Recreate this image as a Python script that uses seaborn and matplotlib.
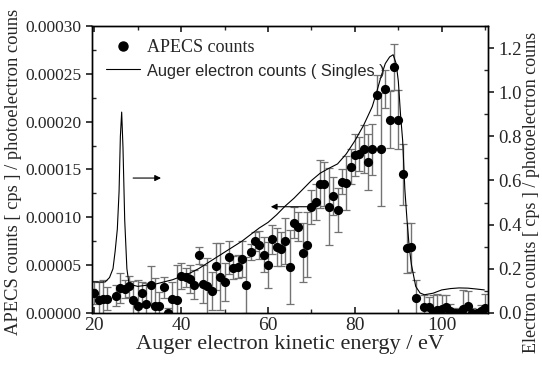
import numpy as np
import pandas as pd
import seaborn as sns
import matplotlib.pyplot as plt
from matplotlib.ticker import MultipleLocator, FormatStrFormatter
from matplotlib.lines import Line2D

# APECS coincidence counts (values in units of 1e-5 cps / photoelectron counts)
energy = [20, 21, 22, 23, 25, 26, 27, 28, 29, 30, 31, 32, 33, 34, 35, 36, 37, 38, 39,
          40, 41, 42, 43, 44, 45, 46, 47, 48, 49, 50, 51, 52, 53, 54, 55, 56, 57, 58, 59,
          60, 61, 62, 63, 64, 65, 66, 67, 68, 69, 70, 71, 72, 73, 74, 75, 76, 77, 78, 79,
          80, 81, 82, 83, 84, 85, 86, 87, 88, 89, 90, 91, 92, 93, 94, 96, 97, 98, 99,
          100, 101, 102, 103, 104, 105, 106, 107, 108, 109, 110]
apecs = [2.1, 1.3, 1.4, 1.5, 1.8, 2.6, 2.5, 2.8, 1.3, 0.7, 2.1, 0.95, 2.9, 0.7, 0.7, 2.7, 0.0, 1.45, 1.35,
         3.85, 3.7, 3.55, 2.95, 6.0, 3.0, 2.8, 2.3, 4.85, 3.8, 3.2, 5.8, 4.7, 4.8, 5.6, 2.9, 6.35, 7.5, 7.1, 6.1,
         5.0, 7.7, 6.9, 6.65, 7.5, 4.8, 9.45, 9.0, 6.3, 7.1, 11.1, 11.6, 13.5, 13.45, 11.1, 12.2, 10.8, 13.7, 13.6, 15.3,
         16.5, 16.6, 17.1, 15.8, 17.1, 22.8, 17.1, 23.4, 20.2, 25.7, 20.2, 14.5, 6.8, 6.85, 1.6, 0.66, 0.66, 0.1, 0.35,
         0.45, 0.6, 0.15, 0.0, 0.0, 0.4, 0.75, 0.0, 0.0, 0.2, 0.55]
apecs_err = [1.2, 1.9, 2.0, 1.2, 1.1, 1.6, 0.9, 1.1, 2.0, 2.7, 1.1, 2.2, 2.0, 2.9, 1.5, 1.1, 0.5, 1.8, 3.7,
             1.4, 1.0, 1.5, 1.5, 0.9, 2.0, 2.9, 2.0, 2.5, 3.5, 2.0, 1.7, 1.2, 1.2, 1.9, 2.9, 0.8, 1.0, 1.5, 1.8,
             2.4, 1.5, 2.0, 1.8, 2.4, 3.9, 1.6, 1.5, 3.1, 3.4, 1.8, 1.9, 2.5, 2.3, 4.0, 2.0, 2.3, 1.3, 2.8, 1.8,
             2.2, 1.8, 2.5, 2.9, 2.7, 2.1, 5.9, 2.0, 3.0, 2.4, 3.1, 3.2, 2.6, 2.6, 1.8, 1.2, 1.0, 1.8, 1.6,
             1.4, 1.3, 0.8, 0.5, 0.4, 2.0, 1.5, 0.5, 0.3, 0.6, 1.4]

# Auger electron singles spectrum (right axis)
singles_energy = [19.5, 21, 22.5, 23.5, 24.3, 24.8, 25.3, 25.7, 26.0, 26.3, 26.6, 27.0, 27.5, 28,
                  30, 32, 34, 36, 38, 40, 42, 44, 46, 48, 50, 52, 54, 56, 58, 60, 62, 64, 66, 68,
                  70, 72, 74, 76, 78, 80, 82, 84, 85, 86, 87, 88, 88.8, 89.5, 90, 90.5, 91, 91.5,
                  92, 92.5, 93, 93.5, 94, 95, 96, 98, 100, 102, 104, 106, 108, 109.8]
singles = [0.14, 0.14, 0.14, 0.16, 0.2, 0.28, 0.38, 0.55, 0.8, 0.91, 0.75, 0.42, 0.2, 0.13,
           0.12, 0.125, 0.13, 0.14, 0.15, 0.165, 0.18, 0.2, 0.225, 0.25, 0.275, 0.3, 0.325, 0.355, 0.385, 0.41, 0.445, 0.485, 0.52, 0.56,
           0.6, 0.633, 0.655, 0.675, 0.72, 0.78, 0.85, 0.935, 1.0, 1.07, 1.13, 1.16, 1.17, 1.13, 1.05, 0.9, 0.78, 0.56,
           0.42, 0.3, 0.22, 0.17, 0.12, 0.09, 0.082, 0.089, 0.104, 0.11, 0.113, 0.112, 0.108, 0.104]

df = pd.DataFrame({'energy': energy,
                   'apecs': np.array(apecs) * 1e-5,
                   'err': np.array(apecs_err) * 1e-5})
df_s = pd.DataFrame({'energy': singles_energy, 'counts': singles})

sns.set_theme(style='ticks')
plt.rcParams['font.family'] = ['Liberation Serif', 'DejaVu Serif']

fig, ax = plt.subplots(figsize=(5.42, 3.72), dpi=100)
fig.subplots_adjust(left=0.170, right=0.900, bottom=0.159, top=0.930)

# error bars: grey stems, black caps
eb = ax.errorbar(df['energy'], df['apecs'], yerr=df['err'], fmt='none',
                 ecolor='0.45', elinewidth=1.0, capsize=3, capthick=0.9, zorder=2)
for cap in eb[1]:
    cap.set_color('black')
sns.scatterplot(data=df, x='energy', y='apecs', ax=ax, color='black', s=44,
                linewidth=0, zorder=3, legend=False)

ax.set_xlim(19.5, 110.6)
ax.set_ylim(0, 0.0003)
ax.xaxis.set_major_locator(MultipleLocator(20))
ax.xaxis.set_minor_locator(MultipleLocator(10))
ax.yaxis.set_major_locator(MultipleLocator(0.00005))
ax.yaxis.set_minor_locator(MultipleLocator(0.000025))
ax.yaxis.set_major_formatter(FormatStrFormatter('%.5f'))
ax.tick_params(axis='x', which='both', direction='in', top=True, labelsize=14, pad=3)
ax.tick_params(axis='x', which='major', length=4)
ax.tick_params(axis='x', which='minor', length=3)
ax.tick_params(axis='y', which='major', direction='out', length=4, labelsize=12.5)
ax.tick_params(axis='y', which='minor', direction='in', length=3)
ax.set_xlabel('Auger electron kinetic energy / eV', fontsize=16, labelpad=1)
ax.set_ylabel('APECS counts [ cps ] / photoelectron couns', fontsize=13.3)
ax.yaxis.set_label_coords(-0.177, 0.49)

ax2 = ax.twinx()
sns.lineplot(data=df_s, x='energy', y='counts', ax=ax2, color='black', lw=0.8)
ax2.set_ylim(0, 1.30)
ax2.yaxis.set_major_locator(MultipleLocator(0.2))
ax2.yaxis.set_minor_locator(MultipleLocator(0.1))
ax2.yaxis.set_major_formatter(FormatStrFormatter('%.1f'))
ax2.tick_params(axis='y', which='major', direction='out', length=4, labelsize=13.5)
ax2.tick_params(axis='y', which='minor', direction='in', length=3)
ax2.set_ylabel('Electron counts [ cps ] / photoelectron couns', fontsize=13)
ax2.yaxis.set_label_coords(1.09, 0.42)

for a in (ax, ax2):
    for sp in a.spines.values():
        sp.set_linewidth(1.0)
        sp.set_color('black')

# arrows pointing to the relevant axis
ax.annotate('', xy=(36, 0.000141), xytext=(28.3, 0.000141),
            arrowprops=dict(arrowstyle='-|>', color='black', lw=0.8, mutation_scale=9))
ax.annotate('', xy=(60, 0.000111), xytext=(70, 0.000111),
            arrowprops=dict(arrowstyle='-|>', color='black', lw=0.8, mutation_scale=9))

handles = [Line2D([], [], marker='o', ls='none', color='black', ms=6.5),
           Line2D([], [], color='black', lw=0.8)]
leg = ax2.legend(handles, ['APECS counts', 'Auger electron counts ( Singles )'],
                 loc='upper left', bbox_to_anchor=(0.035, 0.955), frameon=False,
                 fontsize=13, handlelength=1.9, handletextpad=0.35,
                 labelspacing=0.4, borderpad=0, borderaxespad=0)
leg.get_texts()[1].set_family(['Liberation Sans', 'DejaVu Sans'])
leg.get_texts()[1].set_fontsize(11.8)

fig.savefig('out.png', dpi=100)
